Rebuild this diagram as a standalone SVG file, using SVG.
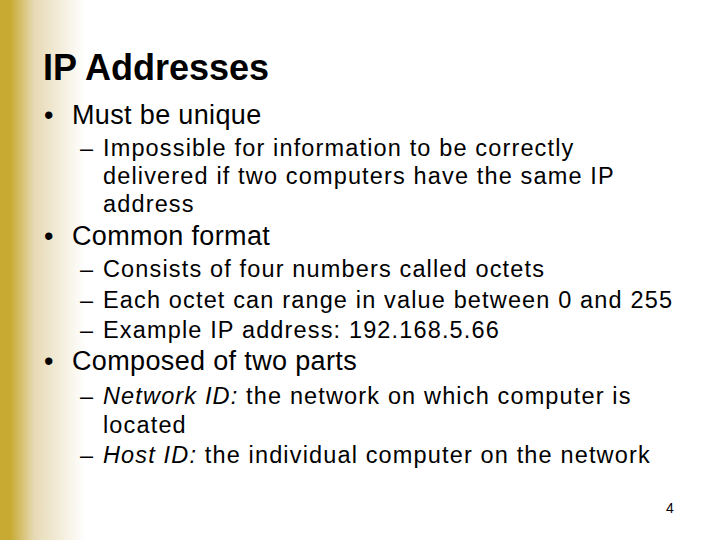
<svg xmlns="http://www.w3.org/2000/svg" width="720" height="540" viewBox="0 0 720 540">
<defs><linearGradient id="g" x1="0" x2="1" y1="0" y2="0"><stop offset="0" stop-color="#C8AA32"/><stop offset="0.12" stop-color="#C8AA32"/><stop offset="0.4" stop-color="#E6D9B4"/><stop offset="1" stop-color="#FFFFFF"/></linearGradient>
<style>text{font-family:"Liberation Sans",Arial,sans-serif;fill:#000}.t{font-size:36px;font-weight:bold}.b{font-size:27px;letter-spacing:0.35px}.s{font-size:23.5px;letter-spacing:1.15px}.i{font-style:italic}</style></defs>
<rect width="720" height="540" fill="#fff"/>
<rect width="85" height="540" fill="url(#g)"/>
<text class="t" x="43" y="80">IP Addresses</text>
<text class="b" x="44" y="124">•</text><text class="b" x="72" y="124">Must be unique</text>
<text class="s" x="80" y="156">–</text><text class="s" x="103" y="156">Impossible for information to be correctly</text>
<text class="s" x="103" y="184">delivered if two computers have the same IP</text>
<text class="s" x="103" y="212">address</text>
<text class="b" x="44" y="245">•</text><text class="b" x="72" y="245">Common format</text>
<text class="s" x="80" y="277">–</text><text class="s" x="103" y="277">Consists of four numbers called octets</text>
<text class="s" x="80" y="308">–</text><text class="s" x="103" y="308">Each octet can range in value between 0 and 255</text>
<text class="s" x="80" y="338">–</text><text class="s" x="103" y="338">Example IP address: 192.168.5.66</text>
<text class="b" x="44" y="370">•</text><text class="b" x="72" y="370">Composed of two parts</text>
<text class="s" x="80" y="404">–</text><text class="s" x="103" y="404"><tspan class="i">Network ID:</tspan> the network on which computer is</text>
<text class="s" x="103" y="433">located</text>
<text class="s" x="80" y="463">–</text><text class="s" x="103" y="463"><tspan class="i">Host ID:</tspan> the individual computer on the network</text>
<text x="666" y="513" style="font-size:14px">4</text>
</svg>
